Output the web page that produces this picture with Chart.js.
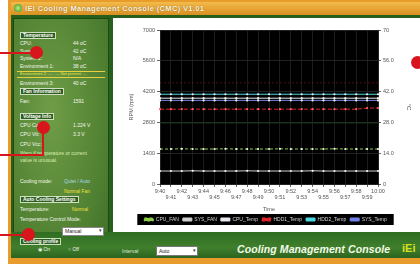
<!DOCTYPE html>
<html><head><meta charset="utf-8">
<script src="https://cdn.jsdelivr.net/npm/chart.js@4.4.1/dist/chart.umd.min.js"></script>
<style>
html,body{margin:0;padding:0;width:420px;height:264px;overflow:hidden;background:#fff;font-family:"Liberation Sans",Arial,sans-serif;}
.abs{position:absolute;}
#app{left:8px;top:0;width:412px;height:264px;background:#e79c2c;}
#title{left:11px;top:2px;width:409px;height:13px;background:linear-gradient(#f3bb4a,#d98f22);color:#fff8e0;font-size:7.5px;font-weight:bold;line-height:13px;text-indent:14px;white-space:nowrap;letter-spacing:0.35px;text-shadow:0 0 1px #7a4a00;}
#icon{left:14px;top:4px;width:8px;height:8px;border-radius:50%;background:radial-gradient(#b8f080,#3c8a22);}
#frame{left:11px;top:15px;width:409px;height:243px;background:#275f1c;}
#left{left:13px;top:18px;width:94px;height:236px;background:radial-gradient(ellipse at 40% 40%,#6f9d47,#4f7f31 70%,#3f6e27);border:1px solid #1c4a12;}
#panel{left:113px;top:18px;width:307px;height:214px;background:#fff;}
#bottom{left:11px;top:232px;width:409px;height:26px;background:linear-gradient(#2f6d22,#3f7f2c 60%,#2c6420);}
.t{position:absolute;color:#f4f8ee;font-size:5px;white-space:nowrap;line-height:6px;}
.h{position:absolute;color:#fff;font-size:5px;font-weight:bold;white-space:nowrap;background:#2f5e22;border:1px solid #cfe0c0;padding:0 2px;line-height:5px;}
.y{color:#f0e040;}
.dot{position:absolute;width:13px;height:13px;border-radius:50%;background:#d8141c;}
.ln{position:absolute;background:#d8141c;}
</style></head>
<body>
<div id="app" class="abs"></div>
<div id="title" class="abs">IEI Cooling Management Console (CMC) V1.01</div>
<div id="icon" class="abs"></div>
<div id="frame" class="abs"></div>
<div id="left" class="abs"></div>
<div id="panel" class="abs"><canvas id="c" width="307" height="214"></canvas></div>
<div id="bottom" class="abs">
  <div class="t" style="left:111px;top:16px;color:#dfe8d8;">Interval</div>
  <div class="abs" style="left:145px;top:14px;width:40px;height:8px;background:#fff;border:1px solid #777;"><span style="position:absolute;left:2px;top:1px;font-size:5px;color:#222;">Auto</span><span style="position:absolute;right:1px;top:0;font-size:5px;color:#333;">▾</span></div>
  <div class="abs" style="left:226px;top:11px;font-size:10.5px;font-weight:bold;font-style:italic;color:#f4fbe8;white-space:nowrap;letter-spacing:0.1px;">Cooling Management Console</div>
  <div class="abs" style="left:391px;top:10px;font-size:11px;font-weight:bold;color:#d8e020;">iEi</div>
</div>

<!-- left panel texts -->
<div class="h" style="left:20px;top:32px;">Temperature</div>
<div class="t" style="left:20px;top:40px;">CPU:</div><div class="t" style="left:73px;top:40px;">44 oC</div>
<div class="t" style="left:20px;top:48px;">System 1:</div><div class="t" style="left:73px;top:48px;">42 oC</div>
<div class="t" style="left:20px;top:55px;">System 2:</div><div class="t" style="left:73px;top:55px;">N/A</div>
<div class="t" style="left:20px;top:63px;">Environment 1:</div><div class="t" style="left:73px;top:63px;">38 oC</div>
<div class="abs" style="left:17px;top:71px;width:88px;height:5px;border-top:1px solid #e8d040;border-bottom:1px solid #e8d040;"></div>
<div class="t y" style="left:20px;top:71px;font-size:4px;line-height:5px;">Environment 2: --- &nbsp; --- Not present ---</div>
<div class="t" style="left:20px;top:80px;">Environment 3:</div><div class="t" style="left:73px;top:80px;">40 oC</div>
<div class="h" style="left:20px;top:88px;">Fan Information</div>
<div class="t" style="left:20px;top:98px;">Fan:</div><div class="t" style="left:73px;top:98px;">1591</div>
<div class="h" style="left:20px;top:113px;">Voltage Info</div>
<div class="t" style="left:20px;top:122px;">CPU Core:</div><div class="t" style="left:73px;top:122px;">1.224 V</div>
<div class="t" style="left:20px;top:131px;">CPU Vtt:</div><div class="t" style="left:73px;top:131px;">3.3 V</div>
<div class="t" style="left:20px;top:141px;">CPU Vcc:</div>
<div class="t" style="left:20px;top:150px;color:#d8f0b0;">Warn if temperature or current</div>
<div class="t" style="left:20px;top:157px;color:#d8f0b0;">value is unusual.</div>
<div class="t" style="left:20px;top:178px;">Cooling mode:</div><div class="t" style="left:64px;top:178px;color:#a8d8e8;">Quiet / Auto</div>
<div class="t y" style="left:64px;top:188px;">Normal Fan</div>
<div class="h" style="left:20px;top:196px;">Auto Cooling Settings</div>
<div class="t" style="left:20px;top:206px;">Temperature:</div><div class="t y" style="left:72px;top:206px;">Normal</div>
<div class="t" style="left:20px;top:216px;">Temperature Control Mode:</div>
<div class="abs" style="left:62px;top:227px;width:40px;height:7px;background:#fff;border:1px solid #888;"><span style="position:absolute;left:2px;top:0;font-size:5px;color:#222;">Manual</span><span style="position:absolute;right:1px;top:-1px;font-size:5px;color:#333;">▾</span></div>
<div class="h" style="left:20px;top:238px;">Cooling profile</div>
<div class="t" style="left:38px;top:246px;">◉ On</div><div class="t" style="left:68px;top:246px;">○ Off</div>

<!-- callouts -->
<div class="ln" style="left:0;top:52px;width:32px;height:2px;"></div>
<div class="dot" style="left:30px;top:46px;"></div>
<div class="ln" style="left:42px;top:128px;width:2px;height:27px;"></div>
<div class="ln" style="left:0;top:154px;width:44px;height:2px;"></div>
<div class="dot" style="left:37px;top:121px;"></div>
<div class="ln" style="left:0;top:234px;width:26px;height:2px;"></div>
<div class="dot" style="left:22px;top:228px;"></div>
<div class="dot" style="left:411px;top:56px;"></div>

<script>
const timeLabels = ['9:40','9:41','9:42','9:43','9:44','9:45','9:46','9:47','9:48','9:49','9:50','9:51','9:52','9:53','9:54','9:55','9:56','9:57','9:58','9:59','10:00'];
const leftTicks = [0,1400,2800,4200,5600,7000];
const rightTickLabels = ['0','14.0','28.0','42.0','56.0','70'];
const seriesNames = ['CPU_FAN','SYS_FAN','CPU_Temp','HDD1_Temp','HDD2_Temp','SYS_Temp'];
const cpuFan   = [1590,1590,1600,1590,1590,1590,1600,1590,1590,1590,1590,1600,1590,1590,1590,1590,1600,1590,1590,1590,1590];
const sysFan   = [590,590,590,600,590,590,590,590,600,590,590,590,590,590,600,590,590,590,590,590,590];
const cpuTemp  = [39.0,39.0,39.0,39.0,39.0,39.0,39.0,39.0,39.0,39.0,39.0,39.0,39.0,39.0,39.0,39.0,39.0,39.0,39.0,39.0,39.0];
const hdd1Temp = [34.0,34.0,34.0,34.0,34.0,34.0,34.0,34.0,34.0,34.0,34.0,34.0,34.0,34.0,34.0,34.0,34.0,34.0,34.0,34.5,34.5];
const hdd2Temp = [40.8,40.8,40.8,40.8,40.8,40.8,40.8,40.8,40.8,40.8,40.8,40.8,40.8,40.8,40.8,40.8,40.8,40.8,40.8,40.8,40.8];
const sysTemp  = [38.0,38.0,38.0,38.0,38.0,38.0,38.0,38.0,38.0,38.0,38.0,38.0,38.0,38.0,38.0,38.0,38.0,38.0,38.0,38.0,38.0];
const limitHigh = [46.0,46.0,46.0,46.0,46.0,46.0,46.0,46.0,46.0,46.0,46.0,46.0,46.0,46.0,46.0,46.0,46.0,46.0,46.0,46.0,46.0];
const limitLow  = [27.7,27.7,27.7,27.7,27.7,27.7,27.7,27.7,27.7,27.7,27.7,27.7,27.7,27.7,27.7,27.7,27.7,27.7,27.7,27.7,27.7];

Chart.defaults.font.family = '"Liberation Sans", Arial, sans-serif';
const tickFont = {size:5.5};

function ds(label, data, color, axis, extra){
  return Object.assign({label, data, yAxisID:axis, borderColor:color, backgroundColor:color,
    borderWidth:1, pointRadius:1.1, pointBorderWidth:0, pointBackgroundColor:'#f4f4f4', tension:0}, extra||{});
}

const bgPlugin = {
  id:'bg',
  beforeDraw(chart){
    const ctx = chart.ctx, a = chart.chartArea;
    ctx.save();
    ctx.fillStyle = '#000';
    ctx.fillRect(a.left, a.top, a.right-a.left, a.bottom-a.top);
    const lg = chart.legend;
    if (lg && lg.legendHitBoxes && lg.legendHitBoxes.length){
      const hb = lg.legendHitBoxes;
      let l = Infinity, r = -Infinity;
      hb.forEach(h=>{ l=Math.min(l,h.left); r=Math.max(r,h.left+h.width); });
      ctx.fillRect(l-7, hb[0].top-3, r-l+14, hb[0].height+6);
    }
    ctx.restore();
  }
};

new Chart(document.getElementById('c'), {
  type:'line',
  data:{
    labels: timeLabels,
    datasets:[
      ds(seriesNames[0], cpuFan, '#8ccc48', 'y', {borderDash:[3,2]}),
      ds(seriesNames[1], sysFan, '#cfcfcf', 'y'),
      ds(seriesNames[2], cpuTemp, '#e8e8f0', 'y1'),
      ds(seriesNames[3], hdd1Temp, '#e0242c', 'y1', {borderDash:[4,2], pointBackgroundColor:'#ff6060'}),
      ds(seriesNames[4], hdd2Temp, '#48d8e0', 'y1'),
      ds(seriesNames[5], sysTemp, '#7080e8', 'y1'),
      ds('limitHigh', limitHigh, 'rgba(140,20,20,0.55)', 'y1', {pointRadius:0, borderDash:[2,2]}),
      ds('limitLow', limitLow, 'rgba(30,80,30,0.6)', 'y1', {pointRadius:0})
    ]
  },
  options:{
    responsive:false, animation:false, devicePixelRatio:1,
    layout:{padding:{left:6,right:8,top:12,bottom:0}},
    plugins:{
      legend:{position:'bottom', align:'center',
        labels:{color:'#d8d8d8', font:{size:5}, boxWidth:9, boxHeight:3, padding:4,
          filter:(item)=> seriesNames.includes(item.text)}},
      tooltip:{enabled:false}
    },
    scales:{
      x:{
        offset:false,
        grid:{color:'#1c1c1c', tickColor:'#666', tickLength:3},
        border:{color:'#222'},
        ticks:{color:'#555', font:tickFont, maxRotation:0, autoSkip:false, padding:1,
          callback:function(v,i){ const t=timeLabels[i]; return i%2===0 ? [t,''] : ['',t]; }},
        title:{display:true, text:'Time', color:'#555', font:{size:5.5}, padding:{top:0,bottom:0}},
        afterFit(s){ s.height = 29; }
      },
      y:{
        position:'left', min:0, max:7000,
        afterBuildTicks(s){ s.ticks = leftTicks.map(v=>({value:v})); },
        grid:{color:'#222', tickColor:'#666', tickLength:3},
        border:{color:'#222'},
        ticks:{color:'#555', font:tickFont, padding:2, callback:(v)=>String(v)},
        title:{display:true, text:'RPM (rpm)', color:'#555', font:{size:5.5}, padding:{top:9,bottom:0}},
        afterFit(s){ s.width = 41; }
      },
      y1:{
        position:'right', min:0, max:70,
        afterBuildTicks(s){ s.ticks = [0,14,28,42,56,70].map(v=>({value:v})); },
        grid:{drawOnChartArea:false, tickColor:'#666', tickLength:3},
        border:{color:'#222'},
        ticks:{color:'#555', font:tickFont, padding:2,
          callback:function(v,i){ return rightTickLabels[i]; }},
        title:{display:true, text:'°C', color:'#555', font:{size:6}, padding:{top:0,bottom:6}},
        afterFit(s){ s.width = 34; }
      }
    }
  },
  plugins:[bgPlugin]
});
</script>
</body></html>
